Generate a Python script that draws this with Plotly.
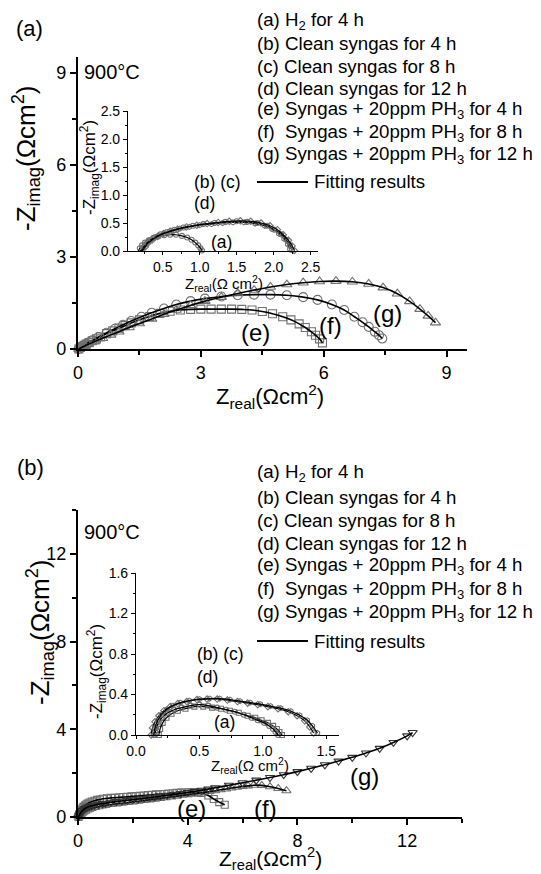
import plotly.graph_objects as go

# page pixels (the figure sits 8px inside the page because of the default body margin)
PAGE_W, PAGE_H = 541, 874
OFF = 8
W, H = PAGE_W - OFF, PAGE_H - OFF
FONT = "Arial, Liberation Sans, sans-serif"

# ---------------- Panel (a) main : Z_real vs -Z_imag ----------------
pa_e_x = [0.02, 0.06, 0.1, 0.15, 0.2, 0.27, 0.35, 0.45, 0.55, 0.7, 0.85, 1.0, 1.15, 1.3, 1.5, 1.75, 2.0, 2.25, 2.5, 2.75,
          3.0, 3.25, 3.5, 3.75, 4.0, 4.25, 4.5, 4.75, 5.0, 5.2, 5.4, 5.55, 5.7, 5.8, 5.9, 5.97]
pa_e_y = [0.0, 0.05, 0.08, 0.12, 0.16, 0.21, 0.27, 0.33, 0.39, 0.5, 0.59, 0.68, 0.76, 0.85, 0.95, 1.06, 1.16, 1.23, 1.27, 1.29,
          1.3, 1.3, 1.3, 1.3, 1.29, 1.27, 1.22, 1.15, 1.05, 0.95, 0.82, 0.7, 0.56, 0.45, 0.33, 0.2]
pa_f_x = [0.02, 0.06, 0.1, 0.15, 0.2, 0.27, 0.35, 0.5, 0.7, 0.9, 1.1, 1.3, 1.55, 1.8, 2.1, 2.4, 2.75, 3.1, 3.5, 3.9,
          4.3, 4.7, 5.1, 5.5, 5.85, 6.2, 6.5, 6.75, 6.95, 7.1, 7.25, 7.35, 7.43]
pa_f_y = [0.0, 0.05, 0.08, 0.12, 0.17, 0.22, 0.28, 0.39, 0.53, 0.66, 0.79, 0.91, 1.05, 1.18, 1.32, 1.45, 1.56, 1.64, 1.71, 1.75,
          1.77, 1.77, 1.75, 1.69, 1.6, 1.45, 1.27, 1.05, 0.87, 0.72, 0.56, 0.45, 0.34]
pa_g_x = [0.02, 0.06, 0.1, 0.17, 0.25, 0.4, 0.6, 0.8, 1.0, 1.25, 1.5, 1.8, 2.1, 2.4, 2.75, 3.1, 3.5, 3.9, 4.3, 4.7,
          5.1, 5.5, 5.9, 6.3, 6.7, 7.1, 7.45, 7.8, 8.1, 8.35, 8.55, 8.73]
pa_g_y = [0.0, 0.03, 0.06, 0.1, 0.15, 0.24, 0.35, 0.46, 0.56, 0.7, 0.83, 0.98, 1.13, 1.27, 1.42, 1.56, 1.69, 1.81, 1.92, 2.02,
          2.1, 2.16, 2.2, 2.21, 2.19, 2.12, 2.0, 1.8, 1.55, 1.3, 1.08, 0.86]

# ---------------- Panel (a) inset ----------------
ia_a_x = [0.17, 0.19, 0.22, 0.26, 0.31, 0.37, 0.44, 0.52, 0.6, 0.68, 0.76, 0.83, 0.89, 0.94, 0.98, 1.01, 1.03]
ia_a_y = [0.0, 0.05, 0.1, 0.15, 0.19, 0.23, 0.26, 0.28, 0.29, 0.29, 0.27, 0.24, 0.2, 0.15, 0.1, 0.05, 0.01]
ia_b_x = [0.2, 0.23, 0.27, 0.32, 0.38, 0.45, 0.53, 0.62, 0.73, 0.86, 1.0, 1.16, 1.31, 1.45, 1.6, 1.75, 1.88, 1.98, 2.07, 2.14, 2.19, 2.22]
ia_b_y = [0.0, 0.06, 0.12, 0.18, 0.23, 0.28, 0.32, 0.36, 0.4, 0.43, 0.46, 0.48, 0.5, 0.51, 0.51, 0.49, 0.45, 0.39, 0.31, 0.22, 0.12, 0.03]
ia_c_x = [0.21, 0.24, 0.28, 0.33, 0.4, 0.47, 0.56, 0.66, 0.78, 0.91, 1.05, 1.2, 1.35, 1.5, 1.64, 1.78, 1.91, 2.01, 2.1, 2.17, 2.22, 2.25]
ia_c_y = [0.0, 0.06, 0.13, 0.19, 0.25, 0.3, 0.34, 0.38, 0.42, 0.45, 0.48, 0.5, 0.52, 0.53, 0.52, 0.5, 0.45, 0.38, 0.3, 0.2, 0.1, 0.02]
ia_d_x = [0.22, 0.26, 0.3, 0.36, 0.43, 0.51, 0.6, 0.7, 0.82, 0.96, 1.1, 1.25, 1.4, 1.55, 1.69, 1.83, 1.95, 2.05, 2.13, 2.2, 2.25, 2.28]
ia_d_y = [0.0, 0.07, 0.14, 0.2, 0.26, 0.31, 0.35, 0.39, 0.43, 0.46, 0.49, 0.51, 0.53, 0.54, 0.53, 0.5, 0.45, 0.38, 0.29, 0.19, 0.09, 0.01]

# ---------------- Panel (b) main ----------------
pb_e_x = [0.02, 0.05, 0.08, 0.12, 0.16, 0.2, 0.25, 0.3, 0.35, 0.42, 0.5, 0.6, 0.7, 0.8, 0.9, 1.05, 1.2, 1.35, 1.5, 1.65, 1.8, 1.95,
          2.1, 2.25, 2.4, 2.55, 2.7, 2.85, 3.0, 3.15, 3.3, 3.45, 3.6, 3.75, 3.9, 4.05, 4.2, 4.35, 4.5, 4.75, 4.95, 5.15, 5.35]
pb_e_y = [0.0, 0.12, 0.22, 0.32, 0.4, 0.46, 0.52, 0.57, 0.61, 0.66, 0.7, 0.74, 0.78, 0.8, 0.83, 0.85, 0.87, 0.88, 0.9, 0.91, 0.92, 0.94,
          0.95, 0.97, 0.98, 1.0, 1.01, 1.03, 1.04, 1.05, 1.07, 1.08, 1.1, 1.11, 1.12, 1.13, 1.13, 1.12, 1.1, 0.98, 0.82, 0.68, 0.56]
pb_f_x = [0.02, 0.06, 0.1, 0.15, 0.2, 0.27, 0.35, 0.42, 0.5, 0.62, 0.75, 0.87, 1.0, 1.2, 1.4, 1.6, 1.8, 2.0, 2.2, 2.4, 2.6, 2.8,
          3.0, 3.2, 3.4, 3.6, 3.8, 4.0, 4.2, 4.4, 4.6, 4.8, 5.0, 5.2, 5.4, 5.6, 5.8, 6.0, 6.2, 6.4, 6.7, 7.0, 7.3, 7.6]
pb_f_y = [0.0, 0.07, 0.12, 0.17, 0.22, 0.27, 0.32, 0.36, 0.39, 0.43, 0.47, 0.5, 0.53, 0.57, 0.6, 0.63, 0.66, 0.69, 0.72, 0.75, 0.78, 0.81,
          0.85, 0.88, 0.92, 0.95, 0.99, 1.02, 1.06, 1.09, 1.13, 1.16, 1.2, 1.24, 1.28, 1.32, 1.36, 1.39, 1.42, 1.45, 1.44, 1.38, 1.3, 1.2]
pb_g_x = [0.02, 0.05, 0.08, 0.12, 0.16, 0.2, 0.25, 0.3, 0.35, 0.42, 0.5, 0.6, 0.75, 0.9, 1.0, 1.2, 1.4, 1.6, 1.8, 2.0, 2.2, 2.4, 2.6,
          2.8, 3.0, 3.25, 3.5, 3.75, 4.0, 4.25, 4.5, 4.75, 5.0, 5.5, 6.0, 6.5, 7.0, 7.5, 8.0, 8.5, 9.0, 9.5, 10.0, 10.5, 11.0, 11.5, 12.0, 12.2]
pb_g_y = [0.0, 0.09, 0.16, 0.23, 0.29, 0.33, 0.38, 0.42, 0.45, 0.48, 0.51, 0.54, 0.58, 0.61, 0.63, 0.67, 0.7, 0.73, 0.76, 0.79, 0.82, 0.85, 0.88,
          0.91, 0.95, 0.99, 1.03, 1.07, 1.12, 1.17, 1.22, 1.27, 1.33, 1.45, 1.56, 1.68, 1.8, 1.93, 2.07, 2.22, 2.38, 2.55, 2.72, 2.92, 3.13, 3.4, 3.7, 3.85]

# ---------------- Panel (b) inset ----------------
ib_a_x = [0.18, 0.19, 0.21, 0.24, 0.28, 0.33, 0.39, 0.46, 0.53, 0.6, 0.67, 0.74, 0.81, 0.88, 0.94, 0.99, 1.04, 1.08, 1.11, 1.13, 1.15]
ib_a_y = [0.0, 0.06, 0.12, 0.17, 0.21, 0.24, 0.26, 0.28, 0.28, 0.27, 0.26, 0.24, 0.22, 0.19, 0.17, 0.145, 0.12, 0.09, 0.06, 0.03, 0.0]
ib_b_x = [0.15, 0.16, 0.18, 0.21, 0.25, 0.3, 0.36, 0.43, 0.5, 0.57, 0.64, 0.71, 0.78, 0.85, 0.91, 0.96, 1.01, 1.05, 1.08, 1.1, 1.12]
ib_b_y = [0.0, 0.07, 0.13, 0.18, 0.22, 0.25, 0.27, 0.29, 0.3, 0.29, 0.27, 0.25, 0.23, 0.2, 0.17, 0.145, 0.12, 0.09, 0.06, 0.03, 0.0]
ib_c_x = [0.12, 0.13, 0.15, 0.18, 0.22, 0.27, 0.33, 0.4, 0.48, 0.56, 0.64, 0.72, 0.8, 0.88, 0.96, 1.04, 1.12, 1.2, 1.27, 1.33, 1.37, 1.4]
ib_c_y = [0.0, 0.07, 0.13, 0.19, 0.24, 0.28, 0.31, 0.33, 0.35, 0.355, 0.355, 0.345, 0.33, 0.315, 0.3, 0.28, 0.26, 0.23, 0.19, 0.14, 0.08, 0.02]
ib_d_x = [0.14, 0.15, 0.17, 0.2, 0.24, 0.29, 0.35, 0.42, 0.5, 0.58, 0.66, 0.74, 0.82, 0.9, 0.98, 1.06, 1.14, 1.22, 1.29, 1.35, 1.39, 1.43]
ib_d_y = [0.0, 0.07, 0.14, 0.2, 0.25, 0.29, 0.32, 0.34, 0.355, 0.36, 0.36, 0.35, 0.335, 0.32, 0.305, 0.285, 0.265, 0.235, 0.195, 0.145, 0.09, 0.02]

legend_lines = ["(a) H<sub>2</sub> for 4 h",
                "(b) Clean syngas for 4 h",
                "(c) Clean syngas for 8 h",
                "(d) Clean syngas for 12 h",
                "(e) Syngas + 20ppm PH<sub>3</sub> for 4 h",
                "(f)  Syngas + 20ppm PH<sub>3</sub> for 8 h",
                "(g) Syngas + 20ppm PH<sub>3</sub> for 12 h"]
fit_label = "Fitting results"

GREY = "#707070"

fig = go.Figure()


def series(x, y, xa, ya, symbol, size, color=GREY, lw=1.6):
    fig.add_trace(go.Scatter(x=x, y=y, xaxis=xa, yaxis=ya, mode="markers", cliponaxis=False,
                             marker=dict(symbol=symbol, size=size, color=color, line=dict(color=color, width=1.1)),
                             showlegend=False, hoverinfo="skip"))
    fig.add_trace(go.Scatter(x=x, y=y, xaxis=xa, yaxis=ya, mode="lines", cliponaxis=False,
                             line=dict(color="black", width=lw, shape="spline", smoothing=1.0),
                             showlegend=False, hoverinfo="skip"))


series(pa_e_x, pa_e_y, "x", "y", "square-open", 8)
series(pa_f_x, pa_f_y, "x", "y", "circle-open", 9)
series(pa_g_x, pa_g_y, "x", "y", "triangle-up-open", 9)

series(ia_a_x, ia_a_y, "x2", "y2", "circle-open", 5, lw=1.2)
series(ia_b_x, ia_b_y, "x2", "y2", "hexagon-open", 5, lw=1.2)
series(ia_c_x, ia_c_y, "x2", "y2", "circle-open", 5, lw=1.2)
series(ia_d_x, ia_d_y, "x2", "y2", "diamond-open", 5, lw=1.2)

series(pb_e_x, pb_e_y, "x3", "y3", "square-open", 7)
series(pb_f_x, pb_f_y, "x3", "y3", "triangle-up-open", 8)
series(pb_g_x, pb_g_y, "x3", "y3", "triangle-down-open", 8, color="#333333")

series(ib_a_x, ib_a_y, "x4", "y4", "square-open", 5, lw=1.2)
series(ib_b_x, ib_b_y, "x4", "y4", "circle-open", 5, lw=1.2)
series(ib_c_x, ib_c_y, "x4", "y4", "diamond-open", 5, lw=1.2)
series(ib_d_x, ib_d_y, "x4", "y4", "hexagon-open", 5, lw=1.2)


def fx(p):
    return (p - OFF) / W


def fy(p):
    return 1 - (p - OFF) / H


def dx(p0, p1):
    return [fx(p0), fx(p1)]


def dy(top, bottom):
    return [fy(bottom), fy(top)]


def axis(domain, rng, anchor, dtick, minor, fsize, lw, tlen, fmt=None):
    d = dict(domain=domain, range=rng, anchor=anchor, showgrid=False, zeroline=False, automargin=False,
             showline=True, linecolor="black", linewidth=lw, ticks="outside", ticklen=tlen,
             tickwidth=lw, tickcolor="black", tickmode="linear", tick0=0, dtick=dtick,
             tickfont=dict(family=FONT, size=fsize, color="black"),
             minor=dict(ticks="outside", ticklen=max(2, tlen - 2), tickwidth=lw, tickcolor="black",
                        dtick=minor, tick0=0))
    if fmt:
        d["tickformat"] = fmt
    return d


fig.update_layout(
    width=W, height=H, margin=dict(l=0, r=0, t=0, b=0, pad=0), autosize=False,
    paper_bgcolor="white", plot_bgcolor="rgba(0,0,0,0)",
    font=dict(family=FONT, color="black"),
    xaxis=axis(dx(78, 467), [0, 9.5], "y", 3, 1.5, 18, 2.2, 6),
    yaxis=axis(dy(57.4, 349), [0, 9.5], "x", 3, 1.5, 18, 2.2, 6),
    xaxis2=axis(dx(128, 318), [0.03, 2.6], "y2", 0.5, 0.25, 14, 1.2, 3, ".1f"),
    yaxis2=axis(dy(111, 251), [0.0001, 2.5], "x2", 0.5, 0.25, 14, 1.2, 4, ".1f"),
    xaxis3=axis(dx(78, 462), [0, 14], "y3", 4, 2, 18, 2.2, 6),
    yaxis3=axis(dy(510, 817), [0, 14], "x3", 4, 2, 18, 2.2, 6),
    xaxis4=axis(dx(136, 339), [0, 1.6], "y4", 0.5, 0.25, 14, 1.2, 3, ".1f"),
    yaxis4=axis(dy(573, 735), [0, 1.6], "x4", 0.4, 0.2, 14, 1.2, 4, ".1f"),
)

ann = []


def text(t, px, py, size, xanchor="center", angle=0):
    ann.append(dict(text=t, x=fx(px), y=fy(py), xref="paper", yref="paper", showarrow=False,
                    xanchor=xanchor, yanchor="middle", textangle=angle,
                    font=dict(family=FONT, size=size, color="black")))


XT = "Z<sub>real</sub>(Ωcm<sup>2</sup>)"
YT = "-Z<sub>imag</sub>(Ωcm<sup>2</sup>)"
XTi = "Z<sub>real</sub>(Ω cm<sup>2</sup>)"
YTi = "-Z<sub>imag</sub>(Ωcm<sup>2</sup>)"

LEG = 18.7

# panel (a)
text("(a)", 29, 28, 22)
text("900°C", 82, 72, 20, "left")
for i, t in enumerate(legend_lines):
    text(t, 255, [21, 44, 66, 88, 110, 133, 155][i], LEG, "left")
text(fit_label, 312, 182, LEG, "left")
text("(b) (c)", 192, 182, 17.5, "left")
text("(d)", 192, 203, 17.5, "left")
text("(a)", 221, 242, 17.5)
text("(e)", 255, 332, 24)
text("(f)", 330, 325, 24)
text("(g)", 387, 313, 24)
text(XT, 270, 396, 22)
text(YT, 26, 158, 26, angle=-90)
text(XTi, 224, 284, 15)
text(YTi, 89, 168, 17, angle=-90)

# panel (b)
text("(b)", 30, 468, 22)
text("900°C", 82, 532, 20, "left")
for i, t in enumerate(legend_lines):
    text(t, 255, [473, 497, 520, 543, 566, 590, 613][i], LEG, "left")
text(fit_label, 312, 641, LEG, "left")
text("(b) (c)", 195, 654, 17.5, "left")
text("(d)", 195, 677, 17.5, "left")
text("(a)", 224, 722, 17.5)
text("(e)", 191, 808, 24)
text("(f)", 265, 808, 24)
text("(g)", 364, 776, 24)
text(XT, 270, 858, 21)
text(YT, 40, 632, 26, angle=-90)
text(XTi, 250, 765, 15)
text(YTi, 96, 672, 17, angle=-90)

fig.update_layout(annotations=ann)

# legend sample lines for the fitting curves
fig.update_layout(shapes=[
    dict(type="line", xref="paper", yref="paper", x0=fx(257), x1=fx(308), y0=fy(182), y1=fy(182),
         line=dict(color="black", width=2)),
    dict(type="line", xref="paper", yref="paper", x0=fx(257), x1=fx(308), y0=fy(641), y1=fy(641),
         line=dict(color="black", width=2)),
])

fig.write_html("out.html")
